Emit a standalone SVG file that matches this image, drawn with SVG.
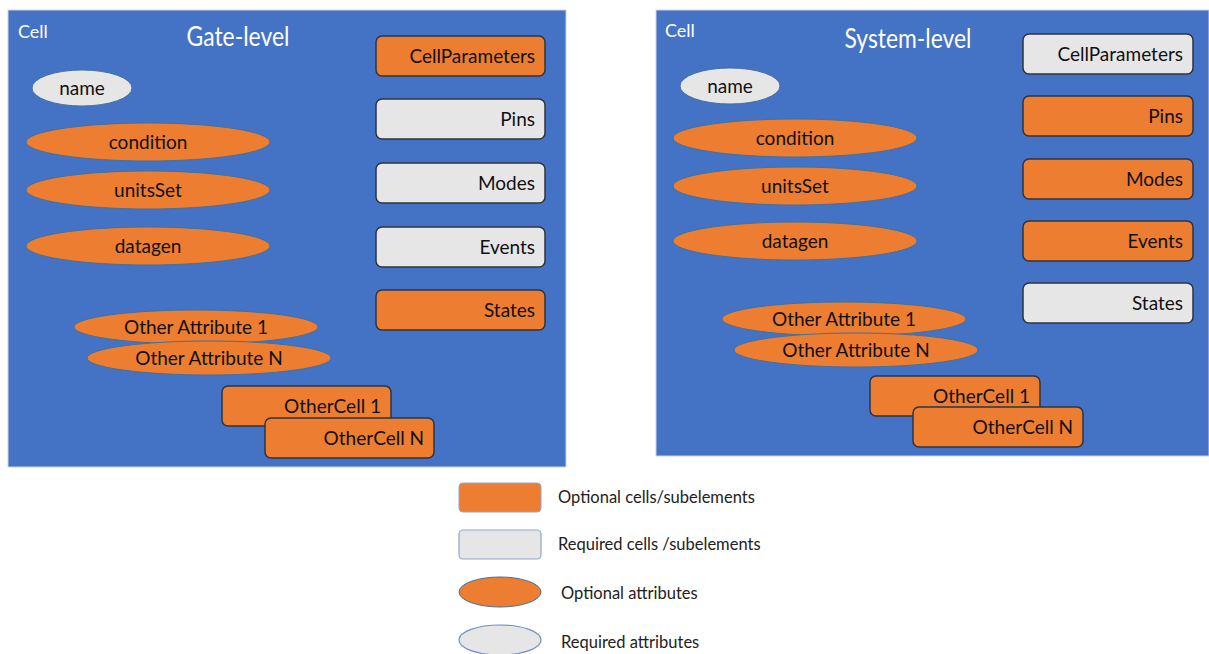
<svg xmlns="http://www.w3.org/2000/svg" width="1209" height="654" viewBox="0 0 1209 654">
  <defs>
    <style>
      .panel { fill: #4472c4; stroke: #c9d3e6; stroke-width: 1; }
      .title { fill: #ffffff; font-family: Lato, "Open Sans", sans-serif; }
      .box-opt { fill: #ed7d31; stroke: #2e3440; stroke-width: 1.5; }
      .box-req { fill: #e7e6e6; stroke: #2e3440; stroke-width: 1.5; }
      .ell-opt { fill: #ed7d31; stroke: #41719c; stroke-width: 1; }
      .ell-req { fill: #e7e6e6; stroke: #41719c; stroke-width: 1; }
      .lbl { fill: #111111; font-family: Lato, "Open Sans", sans-serif; font-size: 19px; }
      .r { text-anchor: end; }
      .c { text-anchor: middle; }
      .leg { fill: #222222; font-family: Lato, "Open Sans", sans-serif; font-size: 16.5px; }
      .leg-box-opt { fill: #ed7d31; stroke: #8fa5cf; stroke-width: 1; }
      .leg-box-req { fill: #e7e6e6; stroke: #8fa5cf; stroke-width: 1.2; }
      .leg-ell-opt { fill: #ed7d31; stroke: #41719c; stroke-width: 1; }
      .leg-ell-req { fill: #e7e6e6; stroke: #6f8fc8; stroke-width: 1.2; }
    </style>
  </defs>

  <rect width="1209" height="654" fill="#ffffff"/>

  <!-- Gate-level cell -->
  <g id="gate-level">
    <rect class="panel" x="8" y="10" width="558" height="457"/>
    <text class="title" x="18" y="38" font-size="18">Cell</text>
    <text class="title c" x="238" y="46" font-size="27" textLength="103" lengthAdjust="spacingAndGlyphs">Gate-level</text>

    <g id="g-name"><ellipse class="ell-req" cx="82" cy="88" rx="50" ry="18"/><text class="lbl c" x="82" y="95">name</text></g>
    <g id="g-condition"><ellipse class="ell-opt" cx="148" cy="142" rx="122" ry="19"/><text class="lbl c" x="148" y="149">condition</text></g>
    <g id="g-unitsSet"><ellipse class="ell-opt" cx="148" cy="190" rx="122" ry="19"/><text class="lbl c" x="148" y="197">unitsSet</text></g>
    <g id="g-datagen"><ellipse class="ell-opt" cx="148" cy="246" rx="122" ry="19"/><text class="lbl c" x="148" y="253">datagen</text></g>
    <g id="g-otherattr1"><ellipse class="ell-opt" cx="196" cy="327" rx="122" ry="17"/><text class="lbl c" x="196" y="334">Other Attribute 1</text></g>
    <g id="g-otherattrN"><ellipse class="ell-opt" cx="209" cy="358" rx="122" ry="17"/><text class="lbl c" x="209" y="365">Other Attribute N</text></g>

    <g id="g-cellparams"><rect class="box-opt" x="376" y="36" width="169" height="40" rx="6"/><text class="lbl r" x="535" y="63">CellParameters</text></g>
    <g id="g-pins"><rect class="box-req" x="376" y="99" width="169" height="40" rx="6"/><text class="lbl r" x="535" y="126">Pins</text></g>
    <g id="g-modes"><rect class="box-req" x="376" y="163" width="169" height="40" rx="6"/><text class="lbl r" x="535" y="190">Modes</text></g>
    <g id="g-events"><rect class="box-req" x="376" y="227" width="169" height="40" rx="6"/><text class="lbl r" x="535" y="254">Events</text></g>
    <g id="g-states"><rect class="box-opt" x="376" y="290" width="169" height="40" rx="6"/><text class="lbl r" x="535" y="317">States</text></g>

    <g id="g-othercell1"><rect class="box-opt" x="222" y="386" width="169" height="40" rx="6"/><text class="lbl r" x="381" y="413">OtherCell 1</text></g>
    <g id="g-othercellN"><rect class="box-opt" x="265" y="418" width="169" height="40" rx="6"/><text class="lbl r" x="424" y="445">OtherCell N</text></g>
  </g>

  <!-- System-level cell -->
  <g id="system-level">
    <rect class="panel" x="656" y="10" width="553" height="446"/>
    <text class="title" x="665" y="37" font-size="18">Cell</text>
    <text class="title c" x="908" y="48" font-size="27" textLength="127" lengthAdjust="spacingAndGlyphs">System-level</text>

    <g id="s-name"><ellipse class="ell-req" cx="730" cy="86" rx="50" ry="18"/><text class="lbl c" x="730" y="93">name</text></g>
    <g id="s-condition"><ellipse class="ell-opt" cx="795" cy="138" rx="122" ry="19"/><text class="lbl c" x="795" y="145">condition</text></g>
    <g id="s-unitsSet"><ellipse class="ell-opt" cx="795" cy="186" rx="122" ry="19"/><text class="lbl c" x="795" y="193">unitsSet</text></g>
    <g id="s-datagen"><ellipse class="ell-opt" cx="795" cy="241" rx="122" ry="19"/><text class="lbl c" x="795" y="248">datagen</text></g>
    <g id="s-otherattr1"><ellipse class="ell-opt" cx="844" cy="319" rx="122" ry="17"/><text class="lbl c" x="844" y="326">Other Attribute 1</text></g>
    <g id="s-otherattrN"><ellipse class="ell-opt" cx="856" cy="350" rx="122" ry="17"/><text class="lbl c" x="856" y="357">Other Attribute N</text></g>

    <g id="s-cellparams"><rect class="box-req" x="1023" y="34" width="170" height="40" rx="6"/><text class="lbl r" x="1183" y="61">CellParameters</text></g>
    <g id="s-pins"><rect class="box-opt" x="1023" y="96" width="170" height="40" rx="6"/><text class="lbl r" x="1183" y="123">Pins</text></g>
    <g id="s-modes"><rect class="box-opt" x="1023" y="159" width="170" height="40" rx="6"/><text class="lbl r" x="1183" y="186">Modes</text></g>
    <g id="s-events"><rect class="box-opt" x="1023" y="221" width="170" height="40" rx="6"/><text class="lbl r" x="1183" y="248">Events</text></g>
    <g id="s-states"><rect class="box-req" x="1023" y="283" width="170" height="40" rx="6"/><text class="lbl r" x="1183" y="310">States</text></g>

    <g id="s-othercell1"><rect class="box-opt" x="870" y="376" width="170" height="40" rx="6"/><text class="lbl r" x="1030" y="403">OtherCell 1</text></g>
    <g id="s-othercellN"><rect class="box-opt" x="913" y="407" width="170" height="40" rx="6"/><text class="lbl r" x="1073" y="434">OtherCell N</text></g>
  </g>

  <!-- Legend -->
  <g id="legend">
    <g id="leg-opt-box"><rect class="leg-box-opt" x="459" y="483" width="82" height="29" rx="4"/><text class="leg" x="558" y="503">Optional cells/subelements</text></g>
    <g id="leg-req-box"><rect class="leg-box-req" x="459" y="530" width="82" height="29" rx="4"/><text class="leg" x="558" y="550">Required cells /subelements</text></g>
    <g id="leg-opt-ell"><ellipse class="leg-ell-opt" cx="500" cy="592" rx="41" ry="15"/><text class="leg" x="561" y="599">Optional attributes</text></g>
    <g id="leg-req-ell"><ellipse class="leg-ell-req" cx="500" cy="640" rx="41" ry="15"/><text class="leg" x="561" y="648">Required attributes</text></g>
  </g>

  <!-- no connectors in this diagram -->
  <g id="connectors"/>
</svg>
